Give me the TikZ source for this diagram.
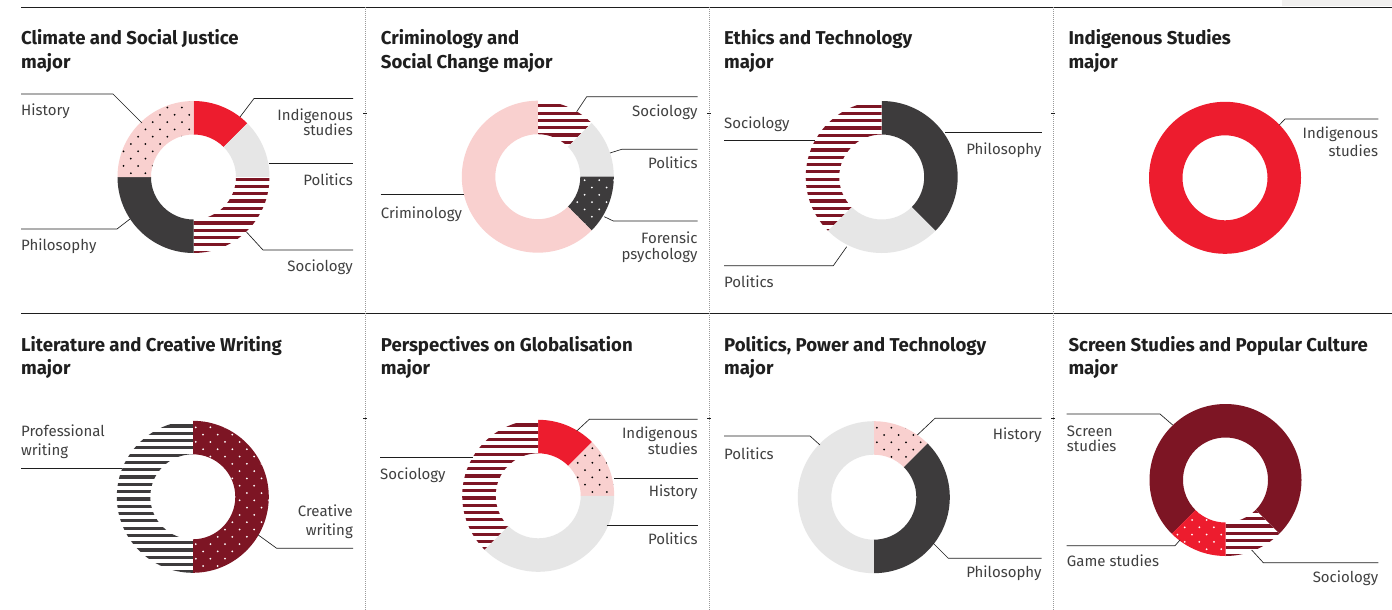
\documentclass[tikz,border=0pt]{standalone}
\usepackage{fontspec}
\setmainfont{Fira Sans}
\definecolor{cred}{HTML}{ED1C2E}
\definecolor{cmaroon}{HTML}{7D1524}
\definecolor{cdark}{HTML}{3D3B3C}
\definecolor{clgray}{HTML}{E6E6E6}
\definecolor{cpink}{HTML}{F9D0CF}
\definecolor{ctext}{HTML}{404040}
\definecolor{cline}{HTML}{1E1E1E}
\definecolor{cgrid}{HTML}{9A9A9A}
\definecolor{cbox}{HTML}{F1F0EF}
\def\Ro{76}
\def\Ri{42.5}
\newcommand\seg[5]{% style cx cy a1 a2
  \fill[#1] ({#2+\Ro*cos(#4)},{#3+\Ro*sin(#4)}) arc[start angle=#4,end angle=#5,radius=\Ro]
    -- ({#2+\Ri*cos(#5)},{#3+\Ri*sin(#5)}) arc[start angle=#5,end angle=#4,radius=\Ri] -- cycle;}
\newcommand\segclip[4]{%
  \clip ({#1+\Ro*cos(#3)},{#2+\Ro*sin(#3)}) arc[start angle=#3,end angle=#4,radius=\Ro]
    -- ({#1+\Ri*cos(#4)},{#2+\Ri*sin(#4)}) arc[start angle=#4,end angle=#3,radius=\Ri] -- cycle;}
\newcommand\ringstripes[5]{% cx cy a1 a2 color
  \begin{scope}
    \segclip{#1}{#2}{#3}{#4}
    \fill[white] ({#1-80},{#2-80}) rectangle ({#1+80},{#2+80});
    \foreach \k in {-11,...,10}{\fill[#5] ({#1-80},{#2+7.3*\k+0.5}) rectangle ({#1+80},{#2+7.3*\k+3.7});}
  \end{scope}}
\newcommand\ringdots[6]{% cx cy a1 a2 base dotcolor
  \begin{scope}
    \segclip{#1}{#2}{#3}{#4}
    \fill[#5] ({#1-80},{#2-80}) rectangle ({#1+80},{#2+80});
    \foreach \j in {-11,...,11}{\foreach \i in {-6,...,6}{%
      \fill[#6] ({#1+14.6*\i+7.3*mod(\j+20,2)+3},{#2+7.3*\j+3.5}) circle (1.0);}}
  \end{scope}}
\tikzset{
  leader/.style={draw=cline, line width=0.65pt},
  lbl/.style={inner sep=0pt, text=ctext, font=\fontsize{15}{18}\selectfont},
  lblL/.style={lbl, anchor=base west},
  lblR/.style={lbl, anchor=base east},
  ttl/.style={inner sep=0pt, anchor=base west, text=black!88, font=\fontsize{18.6}{22}\selectfont\bfseries},
  rule/.style={draw=cline, line width=0.9pt},
  vgrid/.style={draw=cgrid, line width=0.8pt, dash pattern=on 1pt off 1pt},
  tick/.style={draw=cline, line width=0.7pt}
}
\begin{document}
\begin{tikzpicture}[x=1pt,y=-1pt]
\useasboundingbox (0,0) rectangle (1392,610);
\fill[white] (0,0) rectangle (1392,610);
% frame
\fill[cbox] (1282,0) rectangle (1392,6.5);
\coordinate (rt0) at (21,7); \coordinate (rt1) at (1392,7);
\coordinate (rm0) at (21,313); \coordinate (rm1) at (1392,313);
\draw[rule] (rt0) -- (rt1);
\draw[rule] (rm0) -- (rm1);
\foreach \x/\n in {365/a,709/b,1053/c}{
  \coordinate (v\n0) at (\x,7); \coordinate (v\n1) at (\x,610);
  \draw[vgrid] (v\n0) -- (v\n1);
  \draw[tick] (\x-2,113) -- (\x+2,113);
  \draw[tick] (\x-2,418) -- (\x+2,418);
}
% ================= Panel 1
\node[ttl] (t1a) at (21,45) {Climate and Social Justice};
\node[ttl] (t1b) at (21,68) {major};
\seg{cred}{193.5}{177}{-90}{-45}
\seg{clgray}{193.5}{177}{-45}{0}
\ringstripes{193.5}{177}{0}{90}{cmaroon}
\seg{cdark}{193.5}{177}{90}{180}
\ringdots{193.5}{177}{180}{270}{cpink}{black}
\node[lblL] (l1h) at (21,115) {History};
\node[lblR] (l1i) at (353,120.5) {Indigenous};
\node[lblR] (l1i2) at (353,135.5) {studies};
\node[lblR] (l1p) at (353,185) {Politics};
\node[lblR] (l1s) at (353,271) {Sociology};
\node[lblL] (l1ph) at (21,250) {Philosophy};
\coordinate (a1) at (21,94); \coordinate (b1) at (113,94); \coordinate (c1) at (142,123);
\draw[leader] (a1) -- (b1) -- (c1);
\coordinate (a2) at (240,117); \coordinate (b2) at (254,98.5); \coordinate (c2) at (353,98.5);
\draw[leader] (a2) -- (b2) -- (c2);
\coordinate (a3) at (269,163.5); \coordinate (c3) at (353,163.5);
\draw[leader] (a3) -- (c3);
\coordinate (a4) at (246.5,232); \coordinate (b4) at (263,250); \coordinate (c4) at (353,250);
\draw[leader] (a4) -- (b4) -- (c4);
\coordinate (a5) at (21,229); \coordinate (b5) at (117,229); \coordinate (c5) at (130,219);
\draw[leader] (a5) -- (b5) -- (c5);
% ================= Panel 2
\node[ttl] (t2a) at (380.7,45) {Criminology and};
\node[ttl] (t2b) at (380.7,68) {Social Change major};
\ringstripes{537.8}{176.7}{-90}{-45}{cmaroon}
\seg{clgray}{537.8}{176.7}{-45}{0}
\ringdots{537.8}{176.7}{0}{45}{cdark}{white}
\seg{cpink}{537.8}{176.7}{45}{270}
\node[lblR] (l2s) at (697.7,116) {Sociology};
\node[lblR] (l2p) at (697.7,168.3) {Politics};
\node[lblR] (l2f) at (697.7,243.3) {Forensic};
\node[lblR] (l2f2) at (697.7,259.3) {psychology};
\node[lblL] (l2c) at (380.7,218.3) {Criminology};
\coordinate (a6) at (576.7,111.7); \coordinate (b6) at (586.7,96.7); \coordinate (c6) at (697.7,96.7);
\draw[leader] (a6) -- (b6) -- (c6);
\coordinate (a7) at (610,153); \coordinate (b7) at (621.7,149.3); \coordinate (c7) at (697.7,149.3);
\draw[leader] (a7) -- (b7) -- (c7);
\coordinate (a8) at (604.3,216.7); \coordinate (b8) at (613.3,221); \coordinate (c8) at (697.7,221);
\draw[leader] (a8) -- (b8) -- (c8);
\coordinate (a9) at (380.7,194.3); \coordinate (c9) at (464,194.3);
\draw[leader] (a9) -- (c9);
% ================= Panel 3
\node[ttl] (t3a) at (724,45) {Ethics and Technology};
\node[ttl] (t3b) at (724,68) {major};
\seg{cdark}{881.7}{177}{-90}{45}
\seg{clgray}{881.7}{177}{45}{135}
\ringstripes{881.7}{177}{135}{270}{cmaroon}
\node[lblR] (l3p) at (1041.7,154) {Philosophy};
\node[lblL] (l3s) at (724,128.7) {Sociology};
\node[lblL] (l3po) at (724,287.3) {Politics};
\coordinate (a10) at (945,132.7); \coordinate (c10) at (1041.7,132.7);
\draw[leader] (a10) -- (c10);
\coordinate (a11) at (724,140.7); \coordinate (c11) at (815,140.7);
\draw[leader] (a11) -- (c11);
\coordinate (a12) at (846.7,246.7); \coordinate (b12) at (833.3,265.7); \coordinate (c12) at (724,265.7);
\draw[leader] (a12) -- (b12) -- (c12);
% ================= Panel 4
\node[ttl] (t4a) at (1068.3,45) {Indigenous Studies};
\node[ttl] (t4b) at (1068.3,68) {major};
\fill[cred, even odd rule] (1225,177.8) circle (\Ro) (1225,177.8) circle (\Ri);
\node[lblR] (l4i) at (1378.3,138.3) {Indigenous};
\node[lblR] (l4i2) at (1378.3,156.7) {studies};
\coordinate (a13) at (1279.3,125); \coordinate (b13) at (1285,119); \coordinate (c13) at (1378.3,119);
\draw[leader] (a13) -- (b13) -- (c13);
% ================= Panel 5
\node[ttl] (t5a) at (21,351) {Literature and Creative Writing};
\node[ttl] (t5b) at (21,374) {major};
\ringdots{192.8}{496.8}{-90}{90}{cmaroon}{white}
\ringstripes{192.8}{496.8}{90}{270}{cdark}
\node[lblL] (l5p) at (21,436.7) {Professional};
\node[lblL] (l5p2) at (21,455) {writing};
\node[lblR] (l5c) at (353,516.7) {Creative};
\node[lblR] (l5c2) at (353,535) {writing};
\coordinate (a14) at (21,468.3); \coordinate (c14) at (121.7,468.3);
\draw[leader] (a14) -- (c14);
\coordinate (a15) at (258.3,535); \coordinate (b15) at (276.7,548.3); \coordinate (c15) at (353,548.3);
\draw[leader] (a15) -- (b15) -- (c15);
% ================= Panel 6
\node[ttl] (t6a) at (380.7,351) {Perspectives on Globalisation};
\node[ttl] (t6b) at (380.7,374) {major};
\seg{cred}{538.2}{495.8}{-90}{-45}
\ringdots{538.2}{495.8}{-45}{0}{cpink}{black}
\seg{clgray}{538.2}{495.8}{0}{135}
\ringstripes{538.2}{495.8}{135}{270}{cmaroon}
\node[lblR] (l6i) at (697.7,438.3) {Indigenous};
\node[lblR] (l6i2) at (697.7,454) {studies};
\node[lblR] (l6h) at (697.7,496) {History};
\node[lblR] (l6p) at (697.7,544) {Politics};
\node[lblL] (l6s) at (380,479) {Sociology};
\coordinate (a16) at (576.7,431); \coordinate (b16) at (589.3,419.3); \coordinate (c16) at (697.7,419.3);
\draw[leader] (a16) -- (b16) -- (c16);
\coordinate (a17) at (614,478.3); \coordinate (c17) at (697.7,478.3);
\draw[leader] (a17) -- (c17);
\coordinate (a18) at (606.7,525); \coordinate (c18) at (697.7,525);
\draw[leader] (a18) -- (c18);
\coordinate (a19) at (380,457.3); \coordinate (c19) at (473.3,457.3);
\draw[leader] (a19) -- (c19);
% ================= Panel 7
\node[ttl] (t7a) at (724,351) {Politics, Power and Technology};
\node[ttl] (t7b) at (724,374) {major};
\ringdots{873.8}{497.2}{-90}{-45}{cpink}{black}
\seg{cdark}{873.8}{497.2}{-45}{90}
\seg{clgray}{873.8}{497.2}{90}{270}
\node[lblR] (l7h) at (1041.7,439.3) {History};
\node[lblR] (l7ph) at (1041.7,577.7) {Philosophy};
\node[lblL] (l7p) at (724,459) {Politics};
\coordinate (a20) at (917.3,435); \coordinate (b20) at (935,418.3); \coordinate (c20) at (1041.7,418.3);
\draw[leader] (a20) -- (b20) -- (c20);
\coordinate (a21) at (933.3,543.3); \coordinate (b21) at (948.3,558.3); \coordinate (c21) at (1041.7,558.3);
\draw[leader] (a21) -- (b21) -- (c21);
\coordinate (a22) at (724,436); \coordinate (b22) at (810,436); \coordinate (c22) at (820,445);
\draw[leader] (a22) -- (b22) -- (c22);
% ================= Panel 8
\node[ttl] (t8a) at (1068.3,351) {Screen Studies and Popular Culture};
\node[ttl] (t8b) at (1068.3,374) {major};
\seg{cmaroon}{1225.5}{480}{135}{405}
\ringstripes{1225.5}{480}{45}{90}{cmaroon}
\ringdots{1225.5}{480}{90}{135}{cred}{white}
\node[lblL] (l8s) at (1066.7,436.7) {Screen};
\node[lblL] (l8s2) at (1066.7,451.7) {studies};
\node[lblL] (l8g) at (1066.7,566) {Game studies};
\node[lblR] (l8so) at (1378.3,582.7) {Sociology};
\coordinate (a23) at (1066.7,414); \coordinate (b23) at (1160,414); \coordinate (c23) at (1172.7,425);
\draw[leader] (a23) -- (b23) -- (c23);
\coordinate (a24) at (1066.7,545.7); \coordinate (b24) at (1175,545.7); \coordinate (c24) at (1180,540);
\draw[leader] (a24) -- (b24) -- (c24);
\coordinate (a25) at (1251.7,550); \coordinate (b25) at (1263.3,562.7); \coordinate (c25) at (1378.3,562.7);
\draw[leader] (a25) -- (b25) -- (c25);
\end{tikzpicture}
\end{document}
